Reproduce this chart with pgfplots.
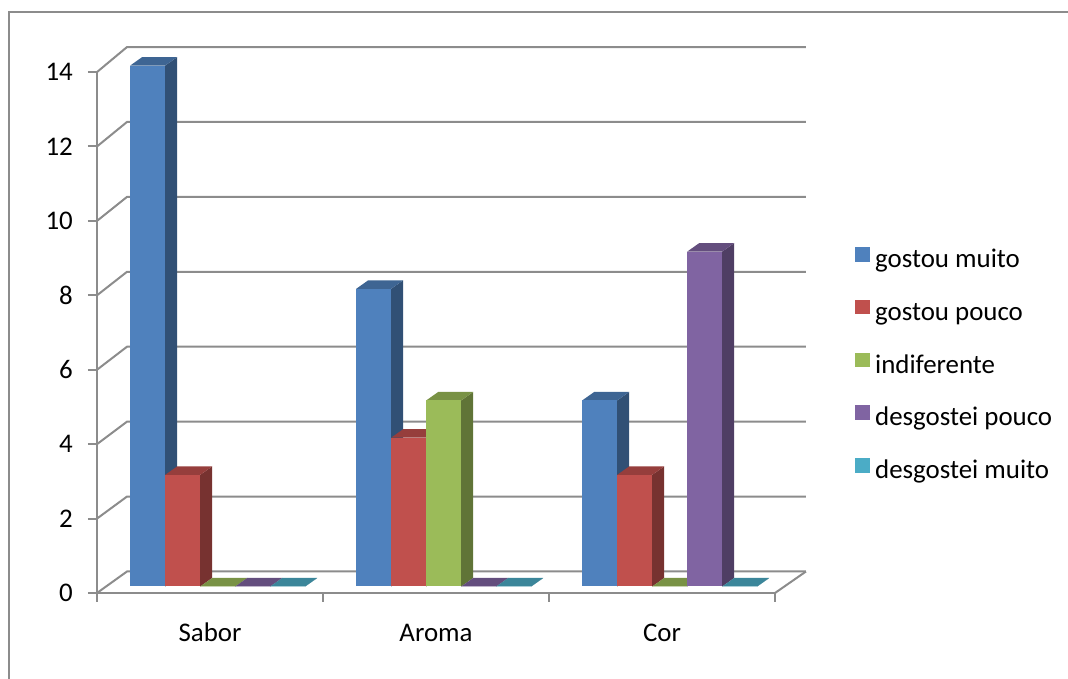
\documentclass[border=0pt]{standalone}
\usepackage{pgfplots}
\pgfplotsset{compat=1.18}
\usepackage{pgfplotstable}
\usepackage{fontspec}
\setmainfont{Carlito}

\definecolor{gridgray}{HTML}{8C8C8C}
\definecolor{sA}{HTML}{4F81BD}
\definecolor{sB}{HTML}{C0504D}
\definecolor{sC}{HTML}{9BBB59}
\definecolor{sD}{HTML}{8064A2}
\definecolor{sE}{HTML}{4BACC6}

% answers per criterion (rows: Sabor, Aroma, Cor)
\pgfplotstableread{
cat gm gp ind dp dm
0   14 3  0   0  0
1   8  4  5   0  0
2   5  3  0   9  0
}\survey

% oblique projection, all in axis units (x: 226bp, y: 37.21bp)
\def\barw{0.15487}  % bar width
\def\gap{0.10619}   % space before first bar of a group
\def\dxz{0.04071}   % bars stand a little behind the front edge (x)
\def\dyz{0.17468}   % ... and (y)
\def\sdx{0.05310}   % bar depth, x
\def\sdy{0.22843}   % bar depth, y
\def\wallx{0.1327}  % back wall offset, x
\def\wally{0.578}   % back wall offset, y

% one 3-D bar: #1 category, #2 series, #3 value, #4 colour
\newcommand\drawbox[4]{%
  \pgfmathsetmacro\xa{#1+\gap+#2*\barw+\dxz}%
  \pgfmathsetmacro\xb{\xa+\barw}%
  \pgfmathsetmacro\xc{\xb+\sdx}%
  \pgfmathsetmacro\xd{\xa+\sdx}%
  \pgfmathsetmacro\ya{\dyz}%
  \pgfmathsetmacro\yb{\dyz+#3}%
  \pgfmathsetmacro\yc{\yb+\sdy}%
  \pgfmathsetmacro\yd{\ya+\sdy}%
  \edef\doplot{%
    \noexpand\addplot[forget plot, draw=none, fill=#4!62!black]
      coordinates {(\xb,\ya) (\xc,\yd) (\xc,\yc) (\xb,\yb)};
    \noexpand\addplot[forget plot, draw=none, fill=#4!78!black]
      coordinates {(\xa,\yb) (\xb,\yb) (\xc,\yc) (\xd,\yc)};
    \noexpand\addplot[forget plot, draw=none, fill=#4]
      coordinates {(\xa,\ya) (\xb,\ya) (\xb,\yb) (\xa,\yb)};
  }\doplot
}

\newcommand\category[1]{%
  \pgfplotstablegetelem{#1}{gm}\of\survey \let\val\pgfplotsretval \drawbox{#1}{0}{\val}{sA}%
  \pgfplotstablegetelem{#1}{gp}\of\survey \let\val\pgfplotsretval \drawbox{#1}{1}{\val}{sB}%
  \pgfplotstablegetelem{#1}{ind}\of\survey \let\val\pgfplotsretval \drawbox{#1}{2}{\val}{sC}%
  \pgfplotstablegetelem{#1}{dp}\of\survey \let\val\pgfplotsretval \drawbox{#1}{3}{\val}{sD}%
  \pgfplotstablegetelem{#1}{dm}\of\survey \let\val\pgfplotsretval \drawbox{#1}{4}{\val}{sE}%
}

\begin{document}
\begin{tikzpicture}
\path[use as bounding box] (0bp,0bp) rectangle (1068bp,679bp);
\begin{scope}
  \clip (0bp,0bp) rectangle (1068bp,679bp);
  \draw[gridgray, line width=2bp] (9bp,-20bp) -- (9bp,667bp) -- (1068bp,667bp);
\end{scope}
\begin{axis}[
  at={(97bp,86bp)}, anchor=origin,
  x=226bp, y=37.21bp,
  xmin=0, xmax=3, ymin=0, ymax=14,
  clip=false,
  axis x line*=bottom, axis y line*=left,
  axis line style={gridgray, line width=2bp, -},
  tick style={gridgray, line width=2bp},
  tick align=outside,
  major tick length=9bp, minor tick length=9bp,
  ytick={0,2,...,14},
  xtick={0.5,1.5,2.5},
  xticklabels={Sabor,Aroma,Cor},
  major x tick style={draw=none},
  minor xtick={0,1,2,3},
  ticklabel style={font=\fontsize{27}{31}\selectfont, text=black},
  /pgf/number format/assume math mode=true,
  yticklabel style={anchor=east, inner sep=0pt, xshift=-15bp},
  xticklabel style={anchor=base, inner sep=0pt, yshift=-40bp},
  legend style={draw=none, fill=none,
    at={(axis description cs:1.1135,0.6680)}, anchor=north west,
    row sep=27.2bp, column sep=5bp,
    nodes={inner sep=0pt, text height=17bp, text depth=5bp},
    font=\fontsize{27}{31}\selectfont},
  legend cell align=left,
  legend image code/.code={\fill[#1, draw=none] (0bp,0bp) rectangle (15bp,14.5bp);},
]
% back wall and left wall grid
\pgfplotsinvokeforeach{0,2,...,14}{%
  \pgfmathsetmacro\yy{\wally+1.0067*#1}%
  \edef\doplot{\noexpand\addplot[forget plot, gridgray, line width=2bp]
    coordinates {(0,#1) (\wallx,\yy) (3.137,\yy)};}\doplot
}
% right edge of the floor
\addplot[forget plot, gridgray, line width=2bp] coordinates {(3,0) (3.137,\wally)};
% bars
\category{0}
\category{1}
\category{2}
% legend
\addlegendimage{fill=sA}\addlegendentry{gostou muito}
\addlegendimage{fill=sB}\addlegendentry{gostou pouco}
\addlegendimage{fill=sC}\addlegendentry{indiferente}
\addlegendimage{fill=sD}\addlegendentry{desgostei pouco}
\addlegendimage{fill=sE}\addlegendentry{desgostei muito}
\end{axis}
\end{tikzpicture}
\end{document}
